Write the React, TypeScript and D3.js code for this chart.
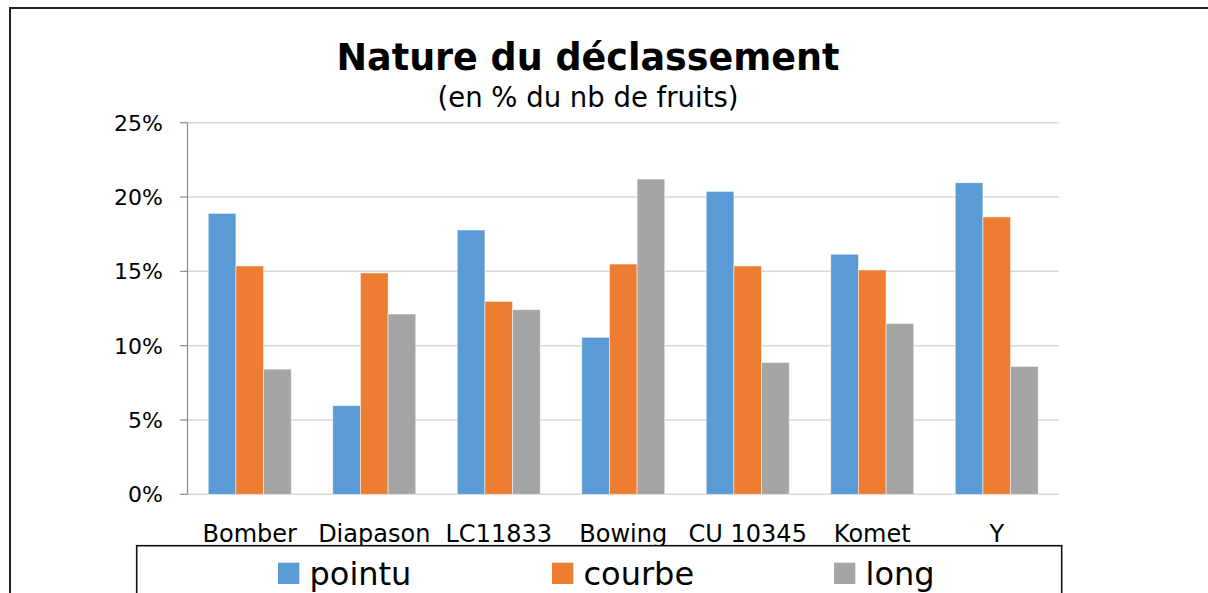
import React from "react";
import * as d3 from "d3";

const categories = ["Bomber", "Diapason", "LC11833", "Bowing", "CU 10345", "Komet", "Y"];
const seriesNames = ["pointu", "courbe", "long"];
const pointu = [18.9, 5.96, 17.78, 10.56, 20.38, 16.15, 20.96];
const courbe = [15.36, 14.89, 12.98, 15.49, 15.36, 15.09, 18.66];
const long = [8.42, 12.13, 12.42, 21.21, 8.87, 11.49, 8.6];
const colors = ["#5b9bd5", "#ed7d31", "#a5a5a5"];
const yTicks = [0, 5, 10, 15, 20, 25];

const FONT = "'DejaVu Sans', Verdana, sans-serif";

export default function App() {
  const W = 1208, H = 593;
  const left = 187.5, right = 1059, top = 122.7, bottom = 494.3;
  const x = d3.scaleBand<string>().domain(categories).range([left, right]).paddingInner(0).paddingOuter(0);
  // Excel gap width 150%: group = 3 bars, gap = 1.5 bars
  const step = x.step();
  const barW = step / 4.5;
  const y = d3.scaleLinear().domain([0, 25]).range([bottom, top]);
  const series = [pointu, courbe, long];

  return (
    <svg width={W} height={H} style={{ position: "absolute", left: 0, top: 0 }} fontFamily={FONT}>
      <rect x={0} y={0} width={W} height={H} fill="#fff" />
      {/* outer chart border */}
      <rect x={10} y={8} width={1300} height={700} fill="none" stroke="#222" strokeWidth={2} />
      {/* title */}
      <text x={588} y={69.5} textAnchor="middle" fontSize={36.5} fontWeight="bold" fill="#000">Nature du déclassement</text>
      <text x={588} y={107} textAnchor="middle" fontSize={27.5} fill="#000">(en % du nb de fruits)</text>
      {/* gridlines */}
      {yTicks.map((t) => (
        <line key={"g" + t} x1={left} x2={right} y1={y(t)} y2={y(t)} stroke="#d9d9d9" strokeWidth={1.5} />
      ))}
      {/* y ticks & labels */}
      {yTicks.map((t) => (
        <g key={"t" + t}>
          <line x1={180} x2={left} y1={y(t)} y2={y(t)} stroke="#8c8c8c" strokeWidth={1.2} />
          <text x={163} y={y(t)} dy="0.36em" textAnchor="end" fontSize={22} fill="#000">{t + "%"}</text>
        </g>
      ))}
      <line x1={left} x2={left} y1={top} y2={bottom} stroke="#8c8c8c" strokeWidth={1.2} />
      {/* bars */}
      {categories.map((c, i) => {
        const cx = x(c)! + step / 2;
        return (
          <g key={c}>
            {series.map((s, k) => {
              const bx = cx - 1.5 * barW + k * barW;
              return (
                <rect key={k} x={bx} y={y(s[i])} width={barW} height={bottom - y(s[i])} fill={colors[k]} stroke="#ffffff" strokeOpacity={0.6} strokeWidth={0.8} />
              );
            })}
            <text x={cx} y={541.5} textAnchor="middle" fontSize={24} fill="#000">{c}</text>
          </g>
        );
      })}
      {/* legend */}
      <rect x={136.7} y={545.7} width={925} height={100} fill="#fff" stroke="#111" strokeWidth={1.6} />
      {seriesNames.map((n, k) => {
        const sx = [278, 552, 834][k];
        return (
          <g key={n}>
            <rect x={sx} y={562.7} width={21.3} height={21.3} fill={colors[k]} />
            <text x={sx + 31.5} y={585} fontSize={32} fill="#000">{n}</text>
          </g>
        );
      })}
    </svg>
  );
}
